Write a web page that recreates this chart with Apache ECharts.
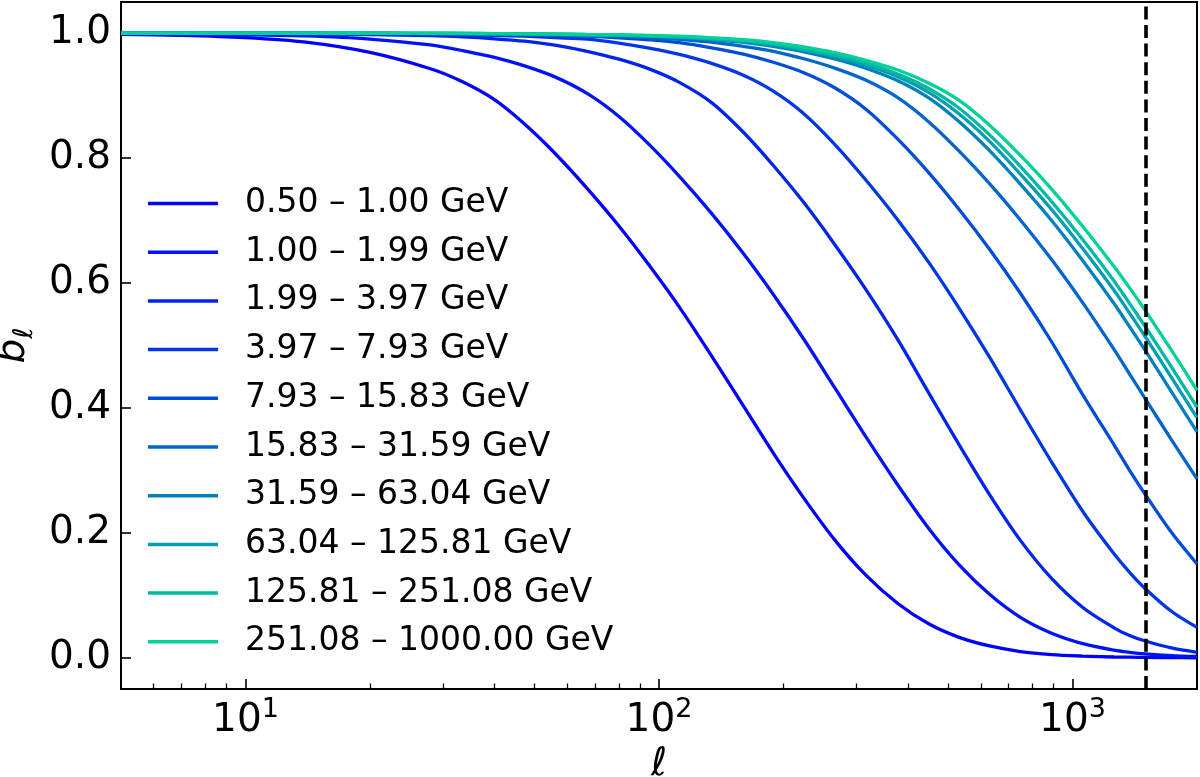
<!DOCTYPE html>
<html>
<head>
    <meta charset="utf-8">
    <title>Beam window functions</title>
    <script src="https://cdn.jsdelivr.net/npm/echarts@6/dist/echarts.min.js"></script>
    <style>
        html, body { margin: 0; padding: 0; background: #fff; }
        #chart { width: 1200px; height: 777px; }
    </style>
</head>
<body>
<div id="chart"></div>
<script type="text/javascript">
    var ell = [5, 7, 10, 14, 20, 28, 33.5, 40, 47.3, 56, 67, 80, 94.6, 112, 134, 160, 189, 224, 266, 316,
        378, 450, 532, 630, 748, 890, 1059, 1260, 1374, 1500, 1734, 2000];

    var bins = ['0.50 – 1.00 GeV', '1.00 – 1.99 GeV', '1.99 – 3.97 GeV', '3.97 – 7.93 GeV',
        '7.93 – 15.83 GeV', '15.83 – 31.59 GeV', '31.59 – 63.04 GeV', '63.04 – 125.81 GeV',
        '125.81 – 251.08 GeV', '251.08 – 1000.00 GeV'];

    var colors = ['#0000ff', '#0012f6', '#0024ed', '#0036e4', '#004dd9',
        '#0066cc', '#0080bf', '#009eb0', '#00b8a3', '#00d196'];

    // b_ell for each energy bin
    var b1  = [0.9981, 0.9965, 0.9928, 0.9856, 0.9692, 0.9431, 0.9222, 0.8936, 0.8546, 0.8078, 0.7516, 0.6914, 0.6288, 0.5615, 0.4834, 0.4033,
        0.3277, 0.2556, 0.1888, 0.1327, 0.087, 0.054, 0.0327, 0.0189, 0.010, 0.0051, 0.0027, 0.0012, 0.0009, 0.0006, 0.0002, 0.0];
    var b2  = [0.9994, 0.9989, 0.9976, 0.9957, 0.9907, 0.9812, 0.9722, 0.9613, 0.9477, 0.9301, 0.9036, 0.8668, 0.8221, 0.7709, 0.7115, 0.6472,
        0.5817, 0.5100, 0.4324, 0.3544, 0.2767, 0.2063, 0.1488, 0.1016, 0.0647, 0.0393, 0.0226, 0.0122, 0.0088, 0.0062, 0.0036, 0.0022];
    var b3  = [1.0, 0.9998, 0.9996, 0.9991, 0.998, 0.9961, 0.9941, 0.9911, 0.9872, 0.9809, 0.971, 0.9584, 0.9429, 0.9213, 0.8889, 0.8414,
        0.7882, 0.7288, 0.6618, 0.5903, 0.5094, 0.423, 0.3409, 0.2613, 0.188, 0.1271, 0.0805, 0.048, 0.0358, 0.0268, 0.0158, 0.0088];
    var b4  = [1.0, 1.0, 0.9998, 0.9996, 0.9993, 0.9983, 0.9975, 0.9965, 0.9952, 0.9929, 0.9905, 0.9841, 0.976, 0.9661, 0.9517, 0.9327,
        0.9072, 0.8711, 0.8221, 0.7653, 0.701, 0.6323, 0.5596, 0.4813, 0.397, 0.3134, 0.2342, 0.1664, 0.1369, 0.1106, 0.0745, 0.0486];
    var b5  = [1.0, 1.0, 0.9998, 0.9997, 0.9996, 0.9993, 0.9988, 0.9982, 0.9975, 0.9966, 0.9952, 0.9927, 0.9894, 0.9848, 0.9766, 0.9666,
        0.9535, 0.9368, 0.9127, 0.8787, 0.8303, 0.776, 0.7178, 0.654, 0.5836, 0.506, 0.421, 0.3409, 0.3001, 0.2613, 0.2009, 0.1502];
    var b6  = [1.0, 1.0, 1.0, 0.9998, 0.9997, 0.9995, 0.9992, 0.9987, 0.9982, 0.9975, 0.9965, 0.9952, 0.9931, 0.990, 0.9857, 0.9788,
        0.971, 0.9591, 0.9442, 0.925, 0.8968, 0.8576, 0.8112, 0.7592, 0.701, 0.6376, 0.5682, 0.4938, 0.4542, 0.4147, 0.3492, 0.2863];
    var b7  = [1.0, 1.0, 1.0, 1.0, 0.9998, 0.9996, 0.9995, 0.9992, 0.9987, 0.9982, 0.9974, 0.9965, 0.9952, 0.9934, 0.9898, 0.9855,
        0.9789, 0.9702, 0.9587, 0.944, 0.9239, 0.896, 0.8582, 0.8119, 0.7584, 0.7002, 0.6358, 0.5673, 0.53, 0.4917, 0.4262, 0.3617];
    var b8  = [1.0, 1.0, 1.0, 1.0, 1.0, 0.9997, 0.9996, 0.9993, 0.9989, 0.9983, 0.9976, 0.9968, 0.9957, 0.9937, 0.9908, 0.987,
        0.9812, 0.9728, 0.9624, 0.9488, 0.9304, 0.9048, 0.8706, 0.8269, 0.7745, 0.7178, 0.6549, 0.5884, 0.5519, 0.514, 0.449, 0.3846];
    var b9  = [1.0, 1.0, 1.0, 1.0, 1.0, 0.9998, 0.9997, 0.9994, 0.999, 0.9985, 0.9978, 0.997, 0.996, 0.9942, 0.9915, 0.9881,
        0.9826, 0.9747, 0.965, 0.9523, 0.9345, 0.911, 0.8798, 0.8372, 0.787, 0.7306, 0.6693, 0.6033, 0.5673, 0.53, 0.4657, 0.4012];
    var b10 = [1.0, 1.0, 1.0, 1.0, 1.0, 0.9998, 0.9997, 0.9995, 0.9991, 0.9987, 0.998, 0.9973, 0.9964, 0.9952, 0.9927, 0.9896,
        0.9849, 0.978, 0.9688, 0.9566, 0.9411, 0.9199, 0.8924, 0.8528, 0.8044, 0.7505, 0.6906, 0.6264, 0.5922, 0.5558, 0.4927, 0.4282];

    var xMajor = [10, 100, 1000];
    var xMinor = [6, 7, 8, 9, 20, 30, 40, 50, 60, 70, 80, 90, 200, 300, 400, 500, 600, 700, 800, 900];
    var yTicks = [0, 0.2, 0.4, 0.6, 0.8, 1.0];
    var lCut = 1500;

    var FONT = 'DejaVu Sans';
    var curves = [b1, b2, b3, b4, b5, b6, b7, b8, b9, b10];

    var chart = echarts.init(document.getElementById('chart'));

    var series = curves.map(function (vals, i) {
        return {
            name: bins[i],
            type: 'line',
            xAxisIndex: 0,
            data: ell.map(function (l, j) { return [l, vals[j]]; }),
            symbol: 'none',
            showSymbol: false,
            smooth: 0.3,
            lineStyle: { color: colors[i], width: 3.3 },
            itemStyle: { color: colors[i] }
        };
    });
    // vertical dashed line
    series[series.length - 1].markLine = {
        silent: true,
        symbol: ['none', 'none'],
        label: { show: false },
        lineStyle: { color: '#000', width: 3.6, type: [13, 5.6] },
        data: [{ xAxis: lCut }]
    };

    chart.setOption({
        animation: false,
        grid: {
            left: 121, right: 3, top: 2, bottom: 88,
            show: true, borderColor: '#000', borderWidth: 2,
            outerBoundsMode: 'none'
        },
        legend: {
            orient: 'vertical',
            left: 148,
            top: 187,
            padding: 0,
            itemWidth: 70,
            itemHeight: 3.5,
            itemGap: 15.7,
            icon: 'rect',
            selectedMode: false,
            textStyle: { fontFamily: FONT, fontSize: 33, color: '#000', lineHeight: 33, padding: [0, 0, 0, 22] },
            data: bins
        },
        xAxis: [{
            type: 'log',
            logBase: 10,
            min: 5,
            max: 2000,
            position: 'bottom',
            axisLine: { show: true, onZero: false, lineStyle: { color: '#000', width: 2 } },
            axisTick: { show: true, inside: true, length: 10, lineStyle: { color: '#000', width: 1.6 }, customValues: xMajor },
            axisLabel: {
                customValues: xMajor,
                margin: 7,
                formatter: function (v) {
                    return '{b|10}{s|' + Math.round(Math.log10(v)) + '}';
                },
                rich: {
                    b: { fontFamily: FONT, fontSize: 39, color: '#000', lineHeight: 44, verticalAlign: 'bottom' },
                    s: { fontFamily: FONT, fontSize: 27, color: '#000', lineHeight: 28, verticalAlign: 'top' }
                }
            },
            splitLine: { show: false },
            name: 'ℓ',
            nameLocation: 'middle',
            nameGap: 52,
            nameTextStyle: { fontFamily: FONT, fontSize: 39, fontStyle: 'italic', color: '#000' }
        }, {
            type: 'log',
            logBase: 10,
            min: 5,
            max: 2000,
            position: 'bottom',
            axisLine: { show: false, onZero: false },
            axisTick: { show: true, inside: true, length: 5.5, lineStyle: { color: '#000', width: 1.3 }, customValues: xMinor },
            axisLabel: { show: false },
            splitLine: { show: false }
        }],
        yAxis: {
            type: 'value',
            min: -0.05,
            max: 1.05,
            axisLine: { show: true, onZero: false, lineStyle: { color: '#000', width: 2 } },
            axisTick: { show: true, inside: true, length: 10, lineStyle: { color: '#000', width: 1.6 }, customValues: yTicks },
            axisLabel: {
                customValues: yTicks,
                margin: 10,
                fontFamily: FONT,
                fontSize: 39,
                color: '#000',
                formatter: function (v) { return v.toFixed(1); }
            },
            splitLine: { show: false },
            name: '{b|b}{s|ℓ}',
            nameLocation: 'middle',
            nameRotate: 90,
            nameGap: 77,
            nameTextStyle: {
                rich: {
                    b: { fontFamily: FONT, fontSize: 39, fontStyle: 'italic', color: '#000', lineHeight: 44, verticalAlign: 'top' },
                    s: { fontFamily: FONT, fontSize: 27, fontStyle: 'italic', color: '#000', lineHeight: 24, verticalAlign: 'bottom' }
                }
            }
        },
        series: series
    });
</script>
</body>
</html>
